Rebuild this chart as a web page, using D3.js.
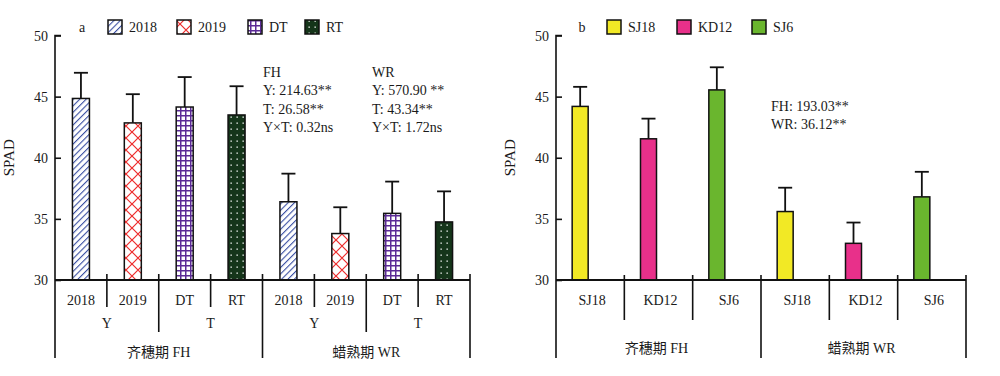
<!DOCTYPE html>
<html><head><meta charset="utf-8">
<script src="https://cdn.jsdelivr.net/npm/d3@7/dist/d3.min.js"></script>
<style>body{margin:0;background:#fff}text{font-family:"Liberation Serif","Times New Roman","Noto Sans CJK SC",serif;fill:#1a1a1a}</style>
</head><body><svg id="c" width="1000" height="376"></svg>
<script>
// ---- data panel a ----
const aStages = ["齐穗期 FH", "蜡熟期 WR"];
const aFactors = ["Y", "T"];
const aLevels = ["2018", "2019", "DT", "RT"];
const aMeansFH = [44.85, 42.85, 44.15, 43.5];
const aErrFH = [46.95, 45.2, 46.6, 45.85];
const aMeansWR = [36.4, 33.8, 35.45, 34.75];
const aErrWR = [38.7, 35.95, 38.05, 37.25];
const aStatsFH = ["FH", "Y: 214.63**", "T: 26.58**", "Y×T: 0.32ns"];
const aStatsWR = ["WR", "Y: 570.90 **", "T: 43.34**", "Y×T: 1.72ns"];
// ---- data panel b ----
const bStages = ["齐穗期  FH", "蜡熟期 WR"];
const bCultivars = ["SJ18", "KD12", "SJ6"];
const bMeansFH = [44.2, 41.55, 45.55];
const bErrFH = [45.8, 43.2, 47.4];
const bMeansWR = [35.6, 33.0, 36.8];
const bErrWR = [37.55, 34.7, 38.85];
const bStats = ["FH: 193.03**", "WR: 36.12**"];
const bColors = ["#f2e925", "#e8308a", "#6ab62e"];
const yTicks = [30, 35, 40, 45, 50];

const svg = d3.select("#c");
const defs = svg.append("defs");
// patterns
function pat(id, size, bg, draw){
  const p = defs.append("pattern").attr("id", id).attr("patternUnits","userSpaceOnUse").attr("width",size).attr("height",size);
  p.append("rect").attr("width",size).attr("height",size).attr("fill",bg);
  draw(p);
}
pat("p2018", 4.5, "#fff", p=>{
  p.attr("patternTransform","rotate(45)");
  p.append("line").attr("x1",0).attr("y1",0).attr("x2",0).attr("y2",4.5).attr("stroke","#3a4fa3").attr("stroke-width",2.2);
});
pat("p2019", 12, "#fff", p=>{
  p.append("path").attr("d","M0,0L12,12M12,0L0,12").attr("stroke","#ee2b2b").attr("stroke-width",1.2);
});
pat("pDT", 5, "#fff", p=>{
  p.append("path").attr("d","M0,0.7H5M0.7,0V5").attr("stroke","#5b2a96").attr("stroke-width",1.6);
});
pat("pRT", 6, "#15351a", p=>{
  p.append("rect").attr("x",2.5).attr("y",2.5).attr("width",1.3).attr("height",1.3).attr("fill","#fff");
});
const aFills = ["url(#p2018)","url(#p2019)","url(#pDT)","url(#pRT)"];

const y = d3.scaleLinear().domain([30, 50]).range([280, 35.5]);

function yAxis(x0){
  const g = svg.append("g").attr("transform",`translate(${x0},0)`);
  g.call(d3.axisRight(y).tickValues(yTicks).tickSize(6).tickFormat(""));
  g.selectAll("path,line").attr("stroke","#111").attr("stroke-width",1.6);
  g.select(".domain").attr("d",`M6,${y(50)}H0V${y(30)}`);
  g.selectAll(".lab").data(yTicks).join("text").attr("x",-7).attr("y",d=>y(d)+5)
    .attr("text-anchor","end").style("font-size","14px").text(d=>d);
  svg.append("text").attr("transform",`translate(${x0-41},${y(40)}) rotate(-90)`)
    .attr("text-anchor","middle").style("font-size","15px").text("SPAD");
}

function errBar(cx, top, err, cap){
  svg.append("line").attr("x1",cx).attr("x2",cx).attr("y1",y(top)).attr("y2",y(err)).attr("stroke","#111").attr("stroke-width",1.8);
  svg.append("line").attr("x1",cx-cap/2).attr("x2",cx+cap/2).attr("y1",y(err)).attr("y2",y(err)).attr("stroke","#111").attr("stroke-width",1.8);
}
function vline(x, y1, y2){
  svg.append("line").attr("x1",x).attr("x2",x).attr("y1",y1).attr("y2",y2).attr("stroke","#111").attr("stroke-width",1.6);
}
function label(x, yy, t, size){
  svg.append("text").attr("x",x).attr("y",yy).attr("text-anchor","middle").style("font-size",(size||14)+"px").text(t);
}

// ================= panel a =================
const aKeys = d3.range(8);
const xa = d3.scaleBand().domain(aKeys).range([55, 470]).padding(0);
yAxis(55);
const aRows = [];
[aMeansFH, aMeansWR].forEach((ms, s)=>ms.forEach((m,i)=>aRows.push({
  k: s*4+i, v: m, e: (s===0?aErrFH:aErrWR)[i], fill: aFills[i], lab: aLevels[i]})));
const bwA = 17;
aRows.forEach(d=>{
  const cx = xa(d.k) + xa.bandwidth()/2;
  errBar(cx, d.v, d.e, 14);
  svg.append("rect").attr("x",cx-bwA/2).attr("y",y(d.v)).attr("width",bwA).attr("height",y(30)-y(d.v))
    .attr("fill",d.fill).attr("stroke","#111").attr("stroke-width",1.5);
  label(cx, 305, d.lab);
});
// x axis hierarchy a
svg.append("line").attr("x1",55).attr("x2",470).attr("y1",280).attr("y2",280).attr("stroke","#111").attr("stroke-width",1.8);
vline(55, 280, 358);
aKeys.slice(1).forEach(k=>{
  const x = xa(k);
  const ext = k%4===0 ? 358 : (k%2===0 ? 332 : 307);
  vline(x, 274, ext);
});
vline(470, 274, 358);
[0,1,2,3].forEach(j=>label(xa(j*2)+xa.bandwidth(), 328, aFactors[j%2]));
[0,1].forEach(s=>label(xa(s*4)+2*xa.bandwidth(), 357, aStages[s]));
// legend a
label(82, 32, "a");
const aLegX = [108, 177, 248, 305];
aLevels.forEach((l,i)=>{
  svg.append("rect").attr("x",aLegX[i]).attr("y",20).attr("width",14).attr("height",14).attr("fill",aFills[i]).attr("stroke","#111").attr("stroke-width",1.5);
  svg.append("text").attr("x",aLegX[i]+21).attr("y",32).style("font-size","14px").text(l);
});
// stats a
[aStatsFH, aStatsWR].forEach((arr, c)=>arr.forEach((t,i)=>{
  svg.append("text").attr("x",c===0?263:372).attr("y",77+i*18.3).style("font-size","14px").text(t);
}));

// ================= panel b =================
const bKeys = d3.range(6);
const xb = d3.scaleBand().domain(bKeys).range([556, 966]).padding(0);
yAxis(556);
const bRows = [];
[bMeansFH, bMeansWR].forEach((ms,s)=>ms.forEach((m,i)=>bRows.push({
  k: s*3+i, v: m, e: (s===0?bErrFH:bErrWR)[i], fill: bColors[i], lab: bCultivars[i]})));
const bwB = 16;
bRows.forEach(d=>{
  const cx = xb(d.k) + xb.bandwidth()/2 - 10;
  errBar(cx, d.v, d.e, 14);
  svg.append("rect").attr("x",cx-bwB/2).attr("y",y(d.v)).attr("width",bwB).attr("height",y(30)-y(d.v))
    .attr("fill",d.fill).attr("stroke","#111").attr("stroke-width",1.5);
  label(xb(d.k)+xb.bandwidth()/2+2, 305, d.lab);
});
svg.append("line").attr("x1",556).attr("x2",966).attr("y1",280).attr("y2",280).attr("stroke","#111").attr("stroke-width",1.8);
vline(556, 280, 358);
bKeys.slice(1).forEach(k=>vline(xb(k), 275, k%3===0 ? 358 : 320));
vline(966, 275, 358);
[0,1].forEach(s=>label(xb(s*3)+1.5*xb.bandwidth()-2, 353, bStages[s]));
// legend b
label(582, 32, "b");
const bLegX = [607, 677, 752];
bCultivars.forEach((l,i)=>{
  svg.append("rect").attr("x",bLegX[i]).attr("y",20).attr("width",14).attr("height",14).attr("fill",bColors[i]).attr("stroke","#111").attr("stroke-width",1.5);
  svg.append("text").attr("x",bLegX[i]+21).attr("y",32).style("font-size","14px").text(l);
});
bStats.forEach((t,i)=>svg.append("text").attr("x",771).attr("y",111+i*18).style("font-size","14px").text(t));
</script></body></html>
